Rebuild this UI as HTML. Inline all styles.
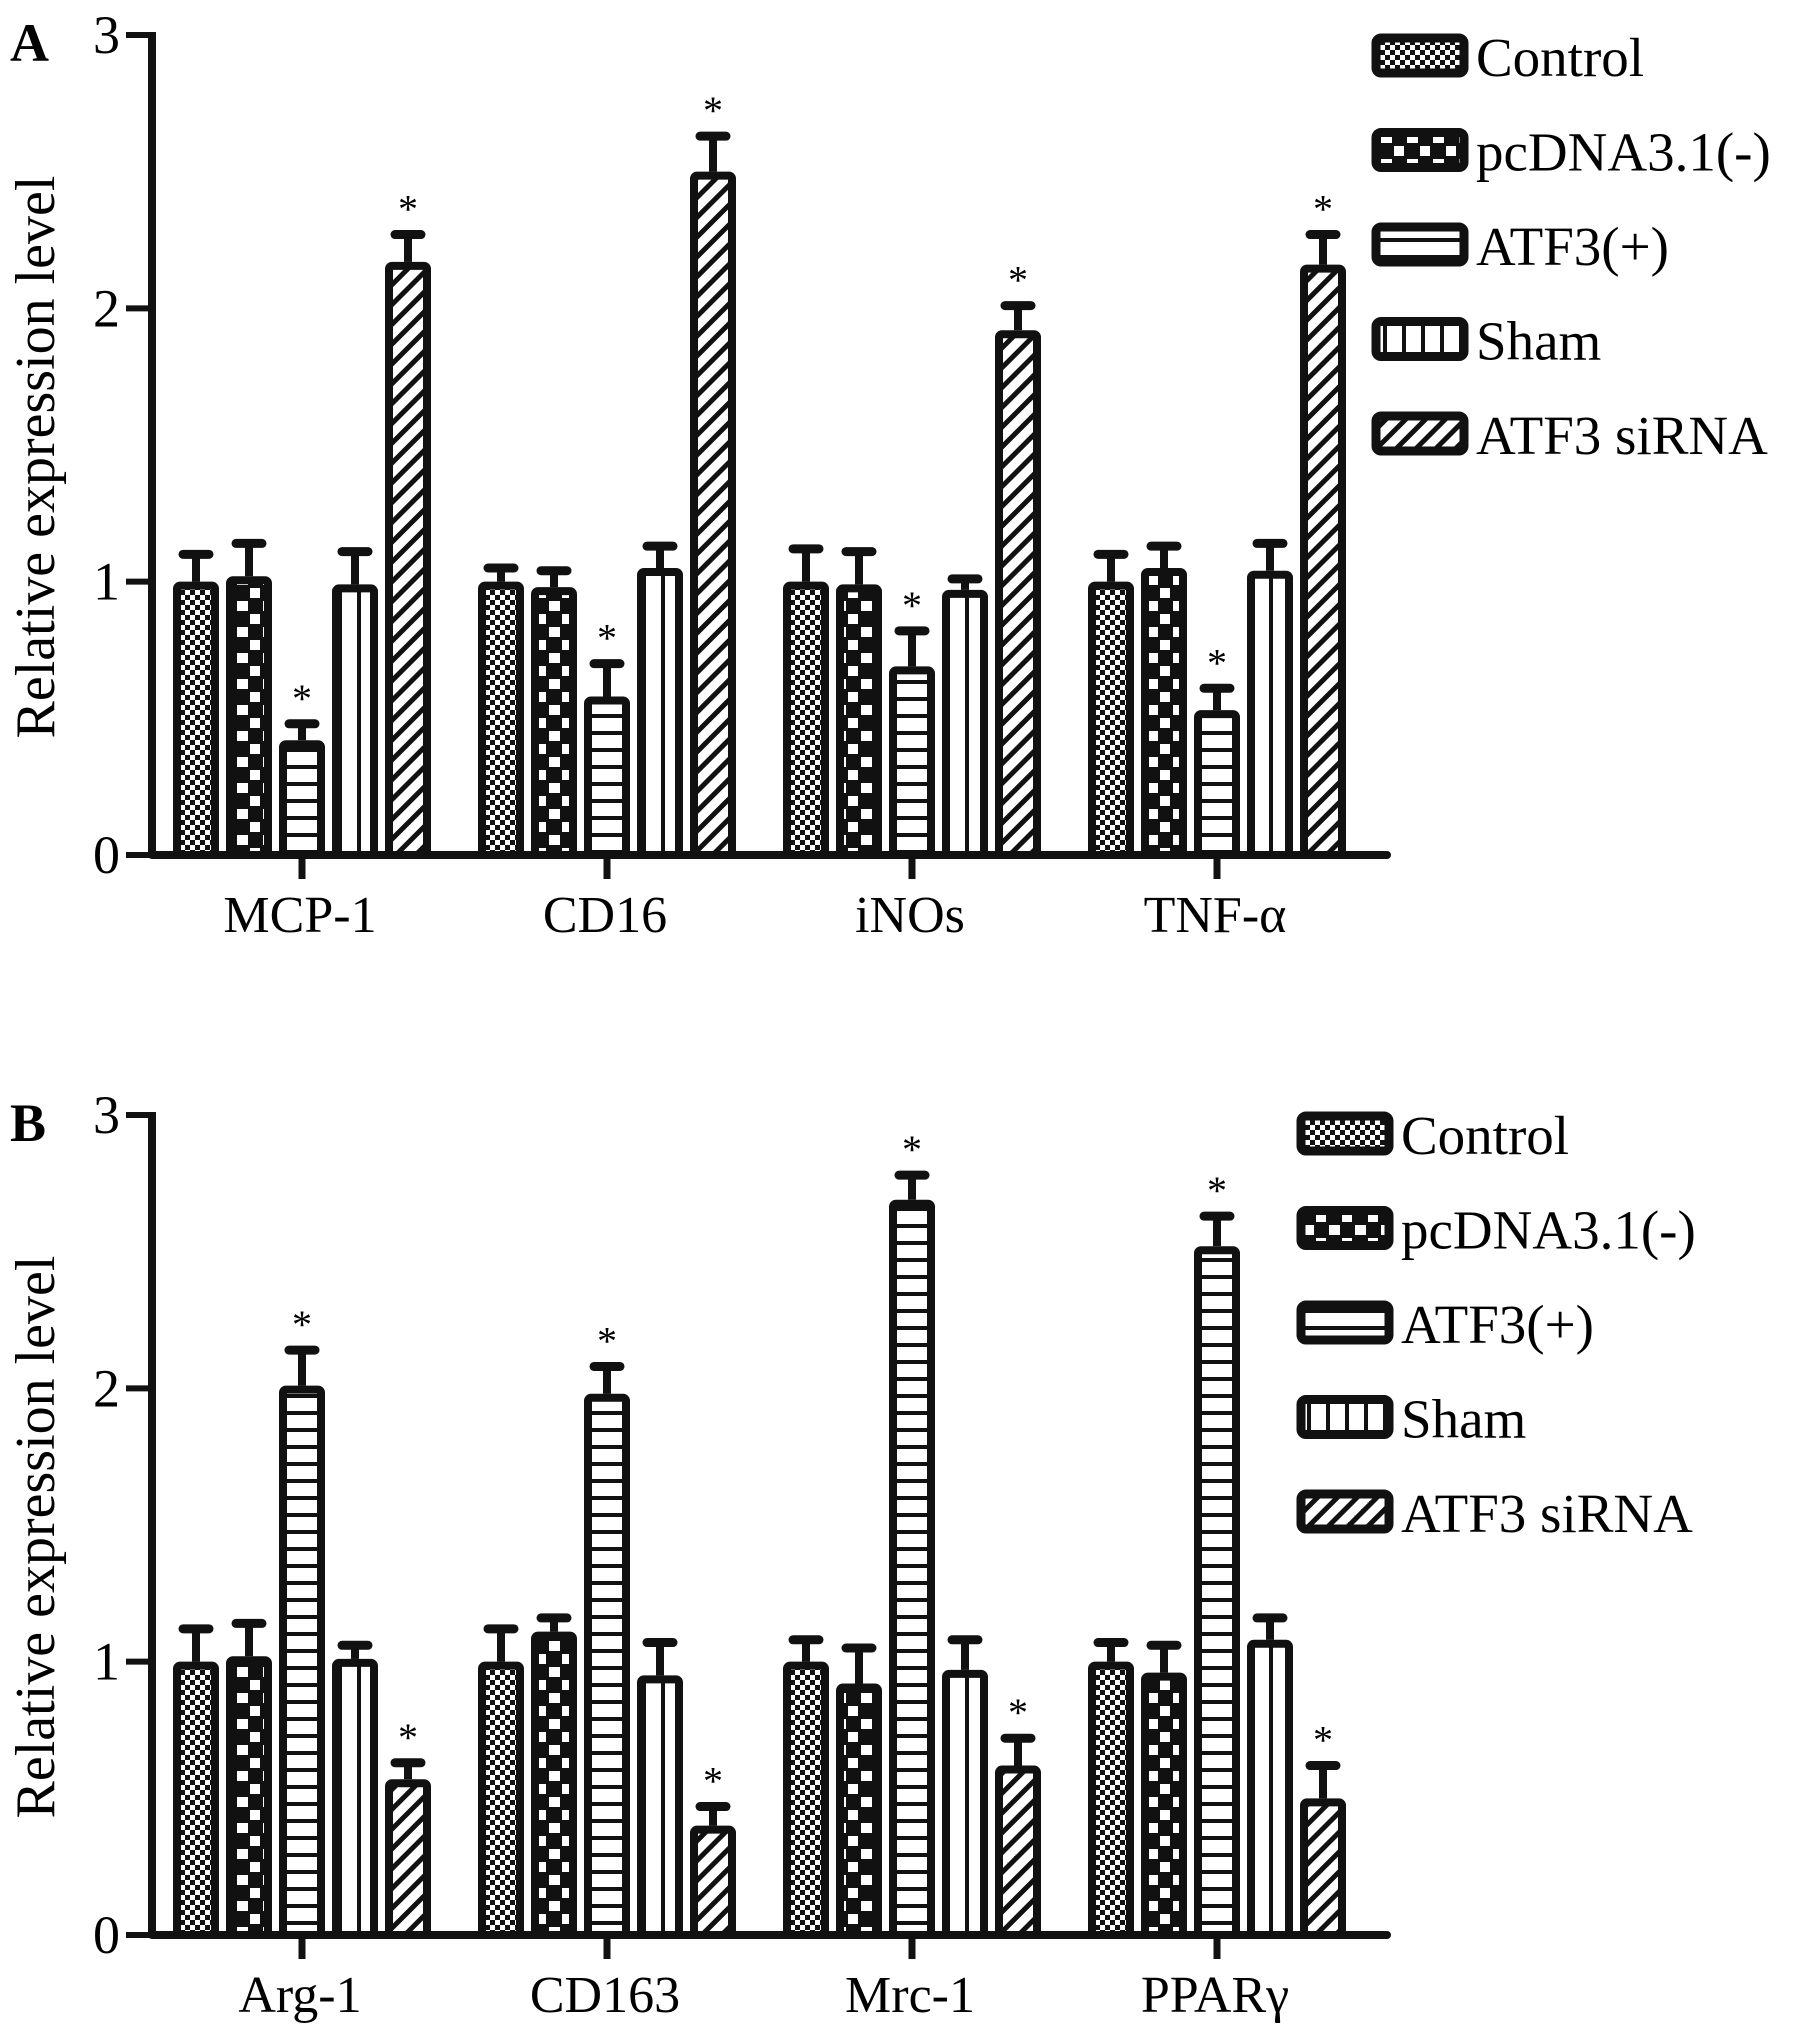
<!DOCTYPE html>
<html><head><meta charset="utf-8">
<style>
html,body{margin:0;padding:0;background:#fff;}
svg{display:block;font-family:"Liberation Serif","DejaVu Serif",serif;}
</style></head>
<body>
<svg id="chart" width="1795" height="2034" viewBox="0 0 1795 2034" xmlns="http://www.w3.org/2000/svg">
<defs>
<pattern id="p0" patternUnits="userSpaceOnUse" width="10" height="10"><rect width="10" height="10" fill="#fff"/><rect width="5" height="5" fill="#111"/><rect x="5" y="5" width="5" height="5" fill="#111"/></pattern>
<pattern id="p1" patternUnits="userSpaceOnUse" width="26" height="26"><rect width="26" height="26" fill="#111"/><rect x="3" y="3" width="11" height="10" fill="#fff"/><rect x="16" y="16" width="11" height="10" fill="#fff"/></pattern>
<pattern id="p2" patternUnits="userSpaceOnUse" width="20" height="17"><rect width="20" height="17" fill="#fff"/><rect y="0" width="20" height="4" fill="#111"/></pattern>
<pattern id="p3" patternUnits="userSpaceOnUse" width="19" height="20"><rect width="19" height="20" fill="#fff"/><rect x="15" width="4" height="20" fill="#111"/></pattern>
<pattern id="p4" patternUnits="userSpaceOnUse" width="14" height="14" patternTransform="rotate(45)"><rect width="14" height="14" fill="#fff"/><rect width="5" height="14" fill="#111"/></pattern>
</defs>
<g id="root"></g>
</svg>
<script>
const series = ["Control","pcDNA3.1(-)","ATF3(+)","Sham","ATF3 siRNA"];
const catsA = ["MCP-1","CD16","iNOs","TNF-α"];
const valsA = [[1.0,1.02,0.42,0.99,2.17],[1.0,0.98,0.58,1.05,2.5],[1.0,0.99,0.69,0.97,1.92],[1.0,1.05,0.53,1.04,2.16]];
const errA = [[0.1,0.12,0.06,0.12,0.1],[0.05,0.06,0.12,0.08,0.13],[0.12,0.12,0.13,0.04,0.09],[0.1,0.08,0.08,0.1,0.11]];
const starA = [[0,0,1,0,1],[0,0,1,0,1],[0,0,1,0,1],[0,0,1,0,1]];
const catsB = ["Arg-1","CD163","Mrc-1","PPARγ"];
const valsB = [[1.0,1.02,2.01,1.01,0.57],[1.0,1.11,1.98,0.95,0.4],[1.0,0.92,2.69,0.97,0.62],[1.0,0.96,2.52,1.08,0.5]];
const errB = [[0.12,0.12,0.13,0.05,0.06],[0.12,0.05,0.1,0.12,0.07],[0.08,0.13,0.09,0.11,0.1],[0.07,0.1,0.11,0.08,0.12]];
const starB = [[0,0,1,0,1],[0,0,1,0,1],[0,0,1,0,1],[0,0,1,0,1]];
const yTicks = [0,1,2,3];

const NS="http://www.w3.org/2000/svg";
const root=document.getElementById('root');
function el(tag,attrs,parent){const e=document.createElementNS(NS,tag);for(const k in attrs)e.setAttribute(k,attrs[k]);(parent||root).appendChild(e);return e;}

function panel(letter,cats,vals,errs,stars,y0,y3,legX,legY,pname){
  const g=el('g',{});
  
  
  const ax=152, axEnd=1387, unit=(y0-y3)/3;
  const y=v=>y0-v*unit;
  const cx=i=>302+i*305;
  const pitch=53, bw=46;
  const t=el('text',{x:10,y:y3+26,'font-size':54,'font-weight':'bold'},g);t.textContent=letter;
  
  
  const yt=el('text',{x:0,y:0,'font-size':56,'text-anchor':'middle',transform:`translate(54,${(y0+y3)/2+12}) rotate(-90)`},g);
  yt.textContent='Relative expression level';
  
  
  cats.forEach((c,i)=>{
    vals[i].forEach((v,j)=>{
      const x=cx(i)+(j-2)*pitch-bw/2;
      const top=y(v+errs[i][j]);
      const eb=el('line',{x1:x+bw/2,x2:x+bw/2,y1:y(v),y2:top,stroke:'#111','stroke-width':8},g);
      
      
      const cap=el('line',{x1:x+bw/2-13,x2:x+bw/2+13,y1:top,y2:top,stroke:'#111','stroke-width':9,'stroke-linecap':'round'},g);
      
      
      const r=el('rect',{x:x+4,y:y(v)+4,width:bw-8,height:Math.max(0,y0-y(v)-4),fill:`url(#p${j})`,stroke:'#111','stroke-width':8,rx:3},g);
      
      
      if(stars[i][j]){
        const s=el('text',{x:x+bw/2,y:top-12,'font-size':40,'text-anchor':'middle'},g);
        s.textContent='*';
        
        
      }
    });
    const tk=el('line',{x1:cx(i),x2:cx(i),y1:y0,y2:y0+24,stroke:'#111','stroke-width':7},g);
    
    
    const lb=el('text',{x:cx(i)-2,y:y0+77,'font-size':52,'text-anchor':'middle'},g);
    lb.textContent=c;
    
    
  });
  const ya=el('line',{x1:ax,x2:ax,y1:y3-3,y2:y0+3,stroke:'#111','stroke-width':8},g);
  
  
  const xa=el('line',{x1:ax,x2:axEnd,y1:y0,y2:y0,stroke:'#111','stroke-width':8,'stroke-linecap':'round'},g);
  
  
  yTicks.forEach(v=>{
    const tl=el('line',{x1:ax-26,x2:ax,y1:y(v),y2:y(v),stroke:'#111','stroke-width':6},g);
    
    
    const tt=el('text',{x:ax-32,y:y(v)+18,'font-size':54,'text-anchor':'end'},g);
    tt.textContent=v;
    
    
  });
  series.forEach((s,j)=>{
    const ly=legY+j*94.5;
    const lg=el('g',{},g);
    
    
    el('rect',{x:legX+4,y:ly-19,width:88,height:35,fill:`url(#p${j})`,stroke:'#111','stroke-width':9,rx:5},lg);
    const lt=el('text',{x:legX+104,y:ly+19,'font-size':55},lg);
    lt.textContent=s;
  });
}
panel('A',catsA,valsA,errA,starA,855,35,1372,57,'panel-a');
panel('B',catsB,valsB,errB,starB,1935,1115,1297,1135,'panel-b');
</script>
</body></html>
